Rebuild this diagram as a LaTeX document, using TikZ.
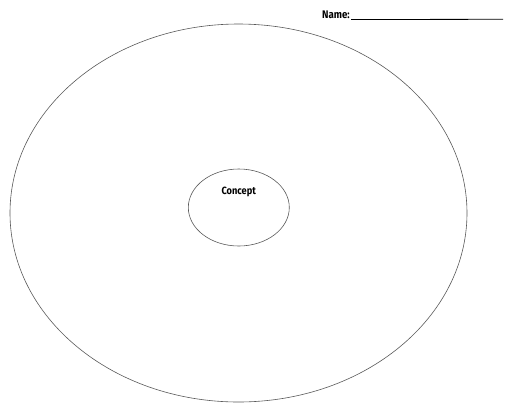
\documentclass[tikz,border=0pt]{standalone}
\usepackage{fontspec}
\setmainfont{Fira Sans}[FakeStretch=0.88]
\usetikzlibrary{positioning}

\begin{document}
\begin{tikzpicture}[x=1pt,y=-1pt]

\useasboundingbox (0,0) rectangle (512,408);

\draw[color=black!65,line width=0.6pt] (238.5,213) ellipse [x radius=228.5, y radius=189];
\draw[color=black!65,line width=0.6pt] (238.8,207.5) ellipse [x radius=50.5, y radius=38.5];

\node[font=\bfseries\fontsize{10.5}{12}\selectfont] (concept) at (238.7,192) {Concept};

\node[font=\bfseries\fontsize{11}{13}\selectfont,anchor=base east,inner sep=0pt] (name) at (350,18.5) {Name:};
\coordinate (lineend) at (503,19.3);
\draw[line width=0.8pt] (name.base east)+(1,1) -- (lineend);

\end{tikzpicture}
\end{document}
